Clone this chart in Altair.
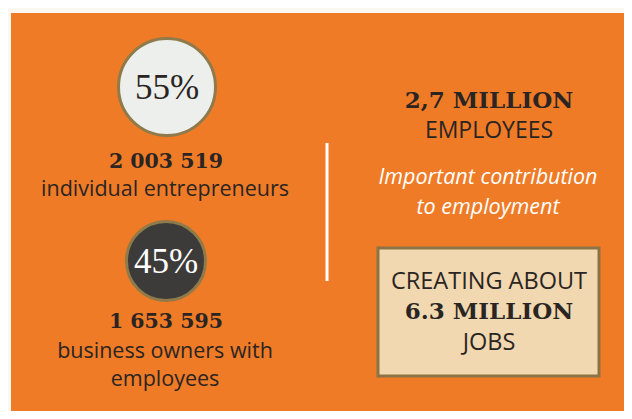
import altair as alt
import pandas as pd

# ---- data ----
shares = [55, 45]                                   # percent of entrepreneurs
share_labels = ["55%", "45%"]
counts = ["2 003 519", "1 653 595"]
groups = [["individual entrepreneurs"], ["business owners with", "employees"]]
employees_headline = "2,7 MILLION"
employees_word = "EMPLOYEES"
contribution = ["Important contribution", "to employment"]
jobs_lines = ["CREATING ABOUT", "6.3 MILLION", "JOBS"]

# ---- layout (pixel positions in the 632x419 frame) ----
circle_x = [167, 166]
circle_y = [87, 261]
circle_size = [9400, 6250]
circle_fill = ["#EDEFEC", "#3C3B3A"]
circle_text = ["#2A2522", "#FFFFFF"]
count_y = [162, 322]
group_y = [[190], [352, 380]]

W, H = 616, 403
XS = alt.Scale(domain=[8, 624], range=[0, W])
YS = alt.Scale(domain=[8, 411], range=[0, H])


def X(f="x"):
    return alt.X(f"{f}:Q", scale=XS, axis=None)


def Y(f="y"):
    return alt.Y(f"{f}:Q", scale=YS, axis=None)


ORANGE = "#EF7B27"
DARK = "#2A2522"

bg = alt.Chart(pd.DataFrame({"x": [11], "x2": [640], "y": [13], "y2": [430]})).mark_rect(
    color=ORANGE
).encode(x=X(), x2="x2:Q", y=Y(), y2="y2:Q")

circ_df = pd.DataFrame({
    "x": circle_x, "y": circle_y, "size": circle_size, "fill": circle_fill,
    "label": share_labels, "tcol": circle_text, "share": shares,
})
circles = alt.Chart(circ_df).mark_point(
    shape="circle", filled=False, stroke="#8E7A4A", strokeWidth=3, opacity=1
).encode(
    x=X(), y=Y(),
    size=alt.Size("size:Q", scale=None, legend=None),
    fill=alt.Fill("fill:N", scale=None, legend=None),
)
circle_labels = alt.Chart(circ_df).mark_text(
    font="Liberation Serif", fontSize=35, baseline="middle", align="center", dy=1
).encode(x=X(), y=Y(), text="label:N", color=alt.Color("tcol:N", scale=None, legend=None))

count_df = pd.DataFrame({"x": [166, 166], "y": count_y, "t": counts})
count_text = alt.Chart(count_df).mark_text(
    font="DejaVu Serif", fontWeight="bold", fontSize=20.5, baseline="middle", color=DARK
).encode(x=X(), y=Y(), text="t:N")

grows = []
for lines, ys in zip(groups, group_y):
    for t, yy in zip(lines, ys):
        grows.append({"x": 165, "y": yy, "t": t})
group_text = alt.Chart(pd.DataFrame(grows)).mark_text(
    font="Open Sans", fontSize=21.5, baseline="middle", color=DARK
).encode(x=X(), y=Y(), text="t:N")

divider = alt.Chart(pd.DataFrame({"x": [327], "y": [143], "y2": [281]})).mark_rule(
    color="white", strokeWidth=3
).encode(x=X(), y=Y(), y2="y2:Q")

head_df = pd.DataFrame({"x": [489, 489], "y": [101, 312], "t": [employees_headline, jobs_lines[1]]})
head_text = alt.Chart(head_df).mark_text(
    font="DejaVu Serif", fontWeight="bold", fontSize=23, baseline="middle", color=DARK
).encode(x=X(), y=Y(), text="t:N")

emp_text = alt.Chart(pd.DataFrame({"x": [489], "y": [131], "t": [employees_word]})).mark_text(
    font="Open Sans", fontSize=23, baseline="middle", color=DARK
).encode(x=X(), y=Y(), text="t:N")

caps_df = pd.DataFrame({"x": [489, 489], "y": [282, 343], "t": [jobs_lines[0], jobs_lines[2]]})
caps_text = alt.Chart(caps_df).mark_text(
    font="Open Sans", fontSize=23.5, baseline="middle", color=DARK
).encode(x=X(), y=Y(), text="t:N")

ital_df = pd.DataFrame({"x": [488, 488], "y": [178, 208], "t": contribution})
ital_text = alt.Chart(ital_df).mark_text(
    font="Open Sans", fontStyle="italic", fontSize=21.5, baseline="middle", color="white"
).encode(x=X(), y=Y(), text="t:N")

box = alt.Chart(pd.DataFrame({"x": [378], "x2": [599], "y": [248], "y2": [376]})).mark_rect(
    fill="#F1D8B0", stroke="#8C7344", strokeWidth=3
).encode(x=X(), x2="x2:Q", y=Y(), y2="y2:Q")

chart = alt.layer(
    bg, divider, circles, circle_labels, count_text, group_text,
    emp_text, ital_text, box, caps_text, head_text
).properties(
    width=W, height=H, background="#FBF7F1",
    autosize=alt.AutoSizeParams(type="none"), padding=0,
).configure_view(stroke=None)

chart.save("out.html", embed_options={"renderer": "svg", "actions": False})
